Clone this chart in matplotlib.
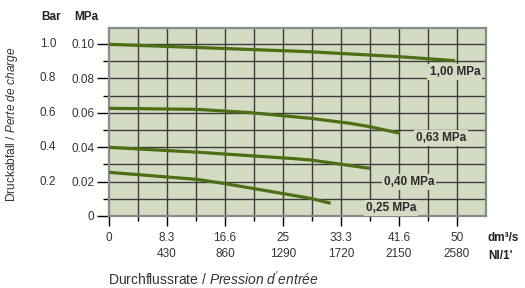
import matplotlib
matplotlib.use("Agg")
import matplotlib.pyplot as plt
import matplotlib.transforms as mtransforms
import numpy as np

plt.rcParams['font.family'] = ['Liberation Sans', 'DejaVu Sans']
plt.rcParams['mathtext.fontset'] = 'custom'
plt.rcParams['mathtext.rm'] = 'Liberation Sans'
plt.rcParams['mathtext.it'] = 'Liberation Sans:italic'

# flow in dm3/s, pressure drop in MPa
flow_100 = [0, 13.1, 28.9, 41.8, 49.7]
drop_100 = [0.0998, 0.0979, 0.0955, 0.0926, 0.0903]
flow_63 = [0, 12.6, 20.3, 28.9, 34.6, 37.5, 41.8]
drop_63 = [0.0626, 0.0620, 0.0601, 0.0568, 0.0539, 0.0519, 0.0481]
flow_40 = [0, 13.1, 26.0, 28.9, 37.5]
drop_40 = [0.0399, 0.0370, 0.0335, 0.0326, 0.0277]
flow_25 = [0, 12.6, 16.4, 28.9, 31.85]
drop_25 = [0.0254, 0.0213, 0.0190, 0.0103, 0.0074]

curve_labels = ['1,00 MPa', '0,63 MPa', '0,40 MPa', '0,25 MPa']
label_pos = [(49.7, 0.0837), (47.7, 0.0453), (43.1, 0.0198), (40.5, 0.0047)]

xticks = [0, 8.333, 16.667, 25, 33.333, 41.667, 50]
xtick_top = ['0', '8.3', '16.6', '25', '33.3', '41.6', '50']
xtick_bot = ['', '430', '860', '1290', '1720', '2150', '2580']
yticks = [0, 0.02, 0.04, 0.06, 0.08, 0.10]
ytick_mpa = ['0', '0.02', '0.04', '0.06', '0.08', '0.10']
ytick_bar = ['', '0.2', '0.4', '0.6', '0.8', '1.0']

bg = '#d3dcc3'
green = '#4d6e14'
gridc = '#3c3c3c'
txt = '#333333'

fig = plt.figure(figsize=(5.25, 2.88), dpi=100)
ax = fig.add_axes([109/525, 1-216/288, 377/525, 188/288])
ax.set_facecolor(bg)
ax.set_xlim(0, 54.167)
ax.set_ylim(0, 0.1093)

# grid every half tick
for gx in np.arange(1, 13) * 50/12:
    ax.axvline(gx, color=gridc, lw=1, zorder=1)
for gy in np.arange(1, 11) * 0.01:
    ax.axhline(gy, color=gridc, lw=1, zorder=1)

for fx, dy in [(flow_100, drop_100), (flow_63, drop_63), (flow_40, drop_40), (flow_25, drop_25)]:
    ax.plot(fx, dy, color=green, lw=2.3, solid_capstyle='butt', zorder=3)

for lab, (lx, ly) in zip(curve_labels, label_pos):
    ax.text(lx, ly, lab, ha='center', va='center', fontsize=8.5, fontweight='bold',
            color='#2a2a2a', zorder=4,
            bbox=dict(facecolor=bg, edgecolor='none', pad=1.5))

for s in ax.spines.values():
    s.set_color('#8a8a8a')
    s.set_linewidth(1.6)

ax.set_xticks(xticks)
ax.set_xticklabels([t + '\n' + b for t, b in zip(xtick_top, xtick_bot)],
                   fontsize=8.5, color=txt, linespacing=1.45, va='top')
ax.set_xticks(np.arange(1, 13, 2) * 50/12, minor=True)
ax.tick_params(axis='x', which='major', length=7.5, width=1, color='black', pad=4)
ax.tick_params(axis='x', which='minor', length=3.5, width=1, color='black')

ax.set_yticks(yticks)
ax.set_yticklabels(ytick_mpa, fontsize=8.5, color=txt)
ax.set_yticks(np.arange(1, 11, 2) * 0.01, minor=True)
ax.tick_params(axis='y', which='major', length=9, width=1, color='black', pad=1.5)
ax.tick_params(axis='y', which='minor', length=4, width=1, color='black')

# second column of y labels (bar)
trans = mtransforms.blended_transform_factory(fig.transFigure, ax.transData)
for yv, lab in zip(yticks, ytick_bar):
    ax.text(48/525, yv, lab, transform=trans, ha='center', va='center',
            fontsize=8.5, color=txt)

fig.text(51/525, 1-17/288, 'Bar', ha='center', va='center', fontsize=8.5,
         fontweight='bold', color='#222222')
fig.text(86/525, 1-17/288, 'MPa', ha='center', va='center', fontsize=8.5,
         fontweight='bold', color='#222222')

fig.text(488/525, 1-238/288, 'dm³/s', ha='left', va='center', fontsize=8.5,
         fontweight='bold', color='#222222')
fig.text(488/525, 1-256/288, "Nl/1'", ha='left', va='center', fontsize=8.5,
         fontweight='bold', color='#222222')

fig.text(12/525, 1-124/288, 'Druckabfall / $\\it{Perte\\ de\\ charge}$', rotation=90,
         ha='center', va='center', fontsize=8.6, color=txt)
fig.text(108/525, 1-279/288, "Durchflussrate / $\\it{Pression\\ d'entrée}$",
         ha='left', va='center', fontsize=10, color=txt)

fig.savefig('out.png', dpi=100)
